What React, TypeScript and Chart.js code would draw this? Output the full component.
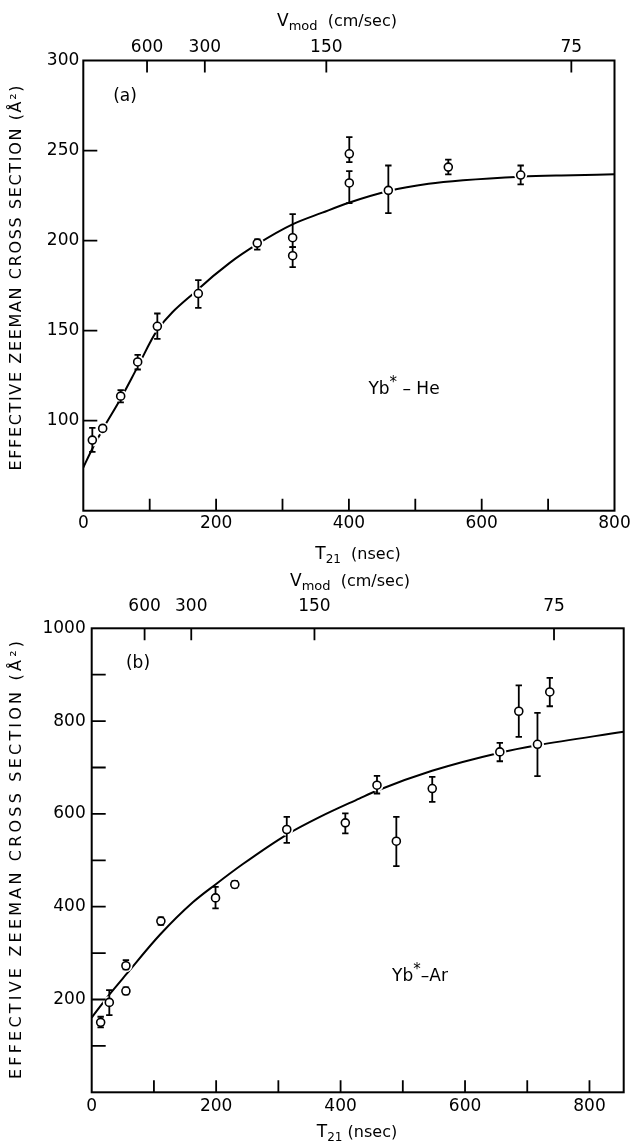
import React, { useEffect, useRef } from 'react';
import { Chart, registerables } from 'chart.js';
Chart.register(...registerables);

const FONT = "'DejaVu Sans', sans-serif";

// ---------- Panel (a): Yb*–He ----------
const heT21 = [13.6, 29.2, 56.3, 81.9, 111.5, 173.2, 262, 315.3, 315.3, 400.6, 400.6, 459.4, 549.7, 658.7];
const heSigma = [89.2, 95.7, 113.6, 132.6, 152.4, 170.6, 198.6, 201.6, 191.6, 248.2, 232, 227.9, 240.8, 236.4];
const heErrHigh = [96, 97.2, 117, 136.5, 159.5, 178, 200.7, 214.7, 196.4, 257.4, 238.6, 241.7, 245, 241.7];
const heErrLow = [82.7, 94.2, 110.1, 128.4, 145.4, 162.6, 195, 196.4, 185.3, 243.6, 220.8, 215.3, 236.8, 231.2];
const heCurveT21 = [0, 13, 29, 56, 82, 111, 173, 220, 262, 315, 360, 400, 460, 520, 572, 660, 720, 800];
const heCurveSigma = [74, 84, 95, 112, 130, 150, 173, 187.5, 198, 209, 215.5, 221, 227.5, 231.5, 233.5, 235.5, 236.2, 236.8];
const heXTicks = [100, 200, 300, 400, 500, 600, 700];
const heXLabels = [0, 200, 400, 600, 800];
const heYTicks = [100, 150, 200, 250];
const heYLabels = [100, 150, 200, 250, 300];
const heVmodT21 = [96, 183, 366, 735];

// ---------- Panel (b): Yb*–Ar ----------
const arT21 = [14.4, 28.3, 55, 55, 111.2, 199, 230, 313.5, 407.6, 458.5, 489.6, 547.3, 655.9, 686.4, 716.4, 736.2];
const arSigma = [150.8, 193.8, 272.7, 218.2, 369, 419, 448, 566.4, 580.7, 661.8, 541.2, 654.7, 733.6, 821.2, 750, 862.8];
const arErrHigh = [162.8, 220.3, 285, 226, 377, 442.8, 455, 593.6, 601, 682, 593.6, 679.8, 753, 877, 817.6, 893];
const arErrLow = [140, 166.5, 265, 211, 361, 396.3, 441, 537.6, 558, 644, 487.4, 625.9, 713.5, 766, 681.2, 832];
const arCurveT21 = [0, 28, 56, 110, 163, 199, 243, 313, 366, 430, 458, 547, 656, 716, 855];
const arCurveSigma = [161, 210, 255, 340, 410, 448, 492, 555, 593, 633, 650, 693, 732, 748, 777];
const arXTicks = [100, 200, 300, 400, 500, 600, 700, 800];
const arXLabels = [0, 200, 400, 600, 800];
const arYTicks = [100, 200, 300, 400, 500, 600, 700, 800, 900];
const arYLabels = [200, 400, 600, 800, 1000];
const arVmodT21 = [85, 160, 358, 743];

const vmodLabels = ['600', '300', '150', '75'];

type Run = { t: string; size: number; dy?: number };
type TextItem = { runs: Run[]; x: number; y: number };

interface Panel {
  t: number[]; s: number[]; hi: number[]; lo: number[];
  ct: number[]; cs: number[];
  xMin: number; xMax: number; yMin: number; yMax: number;
  xTicks: number[]; xLabels: number[]; yTicks: number[]; yLabels: number[]; vmod: number[];
  g: { left: number; right: number; top: number; bottom: number; height: number };
  xPad: number; yPad: number; topPad: number;
  texts: TextItem[];
  title: { x: number; y: number; len: number };
}

const panelA: Panel = {
  t: heT21, s: heSigma, hi: heErrHigh, lo: heErrLow, ct: heCurveT21, cs: heCurveSigma,
  xMin: 0, xMax: 800, yMin: 50, yMax: 300,
  xTicks: heXTicks, xLabels: heXLabels, yTicks: heYTicks, yLabels: heYLabels, vmod: heVmodT21,
  g: { left: 83.3, right: 614.5, top: 60.5, bottom: 510.7, height: 566 },
  xPad: 3, yPad: 4, topPad: 3,
  texts: [
    { runs: [{ t: 'V', size: 17 }, { t: 'mod', size: 13, dy: 4 }, { t: '  (cm/sec)', size: 16 }], x: 337, y: 26 },
    { runs: [{ t: '(a)', size: 17 }], x: 125, y: 101 },
    { runs: [{ t: 'Yb', size: 17 }, { t: '*', size: 15, dy: -7 }, { t: ' – He', size: 17 }], x: 404, y: 394 },
    { runs: [{ t: 'T', size: 17 }, { t: '21', size: 12, dy: 4 }, { t: '  (nsec)', size: 16 }], x: 358, y: 559 },
  ],
  title: { x: 17, y: 278, len: 385 },
};

const panelB: Panel = {
  t: arT21, s: arSigma, hi: arErrHigh, lo: arErrLow, ct: arCurveT21, cs: arCurveSigma,
  xMin: 0, xMax: 855, yMin: 0, yMax: 1000,
  xTicks: arXTicks, xLabels: arXLabels, yTicks: arYTicks, yLabels: arYLabels, vmod: arVmodT21,
  g: { left: 91.7, right: 623.7, top: 62.3, bottom: 526.3, height: 579 },
  xPad: 4, yPad: 6, topPad: 12,
  texts: [
    { runs: [{ t: 'V', size: 17 }, { t: 'mod', size: 13, dy: 4 }, { t: '  (cm/sec)', size: 16 }], x: 350, y: 20 },
    { runs: [{ t: '(b)', size: 17 }], x: 138, y: 102 },
    { runs: [{ t: 'Yb', size: 17 }, { t: '*', size: 15, dy: -7 }, { t: '–Ar', size: 17 }], x: 420, y: 415 },
    { runs: [{ t: 'T', size: 17 }, { t: '21', size: 12, dy: 4 }, { t: ' (nsec)', size: 16 }], x: 357, y: 571 },
  ],
  title: { x: 17, y: 294, len: 438 },
};

function drawRuns(ctx: CanvasRenderingContext2D, runs: Run[], cx: number, y: number) {
  const widths = runs.map((r) => { ctx.font = `${r.size}px ${FONT}`; return ctx.measureText(r.t).width; });
  const total = widths.reduce((a, b) => a + b, 0);
  let x = cx - total / 2;
  ctx.textBaseline = 'alphabetic';
  ctx.textAlign = 'left';
  runs.forEach((r, i) => {
    ctx.font = `${r.size}px ${FONT}`;
    ctx.fillText(r.t, x, y + (r.dy || 0));
    x += widths[i];
  });
}

function drawSpaced(ctx: CanvasRenderingContext2D, text: string, cx: number, cy: number, len: number) {
  ctx.save();
  ctx.translate(cx, cy);
  ctx.rotate(-Math.PI / 2);
  ctx.font = `16px ${FONT}`;
  ctx.textBaseline = 'middle';
  ctx.textAlign = 'left';
  const chars = Array.from(text);
  const w = chars.map((c) => ctx.measureText(c).width);
  const total = w.reduce((a, b) => a + b, 0);
  const gap = (len - total) / (chars.length - 1);
  let x = -len / 2;
  chars.forEach((c, i) => { ctx.fillText(c, x, 0); x += w[i] + gap; });
  ctx.restore();
}

function makePlugin(p: Panel) {
  return {
    id: 'decor',
    afterDatasetDraw(chart: any, args: any) {
      if (args.index !== 1) return;
      const ctx = chart.ctx as CanvasRenderingContext2D;
      const xs = chart.scales.x, ys = chart.scales.y;
      ctx.save();
      ctx.strokeStyle = '#000';
      ctx.lineWidth = 1.8;
      p.t.forEach((t, i) => {
        const x = xs.getPixelForValue(t);
        const yh = ys.getPixelForValue(p.hi[i]);
        const yl = ys.getPixelForValue(p.lo[i]);
        ctx.beginPath();
        ctx.moveTo(x, yh); ctx.lineTo(x, yl);
        ctx.moveTo(x - 3.2, yh); ctx.lineTo(x + 3.2, yh);
        ctx.moveTo(x - 3.2, yl); ctx.lineTo(x + 3.2, yl);
        ctx.stroke();
      });
      ctx.restore();
    },
    afterDraw(chart: any) {
      const ctx = chart.ctx as CanvasRenderingContext2D;
      const a = chart.chartArea;
      const xs = chart.scales.x, ys = chart.scales.y;
      ctx.save();
      ctx.strokeStyle = '#000';
      ctx.fillStyle = '#000';
      ctx.lineWidth = 2;
      ctx.strokeRect(a.left, a.top, a.right - a.left, a.bottom - a.top);
      ctx.lineWidth = 1.8;
      ctx.beginPath();
      p.xTicks.forEach((v) => { const x = xs.getPixelForValue(v); ctx.moveTo(x, a.bottom); ctx.lineTo(x, a.bottom - 12); });
      p.vmod.forEach((v) => { const x = xs.getPixelForValue(v); ctx.moveTo(x, a.top); ctx.lineTo(x, a.top + 12); });
      p.yTicks.forEach((v) => { const y = ys.getPixelForValue(v); ctx.moveTo(a.left, y); ctx.lineTo(a.left + 14, y); });
      ctx.stroke();
      p.texts.forEach((tx) => drawRuns(ctx, tx.runs, tx.x, tx.y));
      drawSpaced(ctx, 'EFFECTIVE ZEEMAN CROSS SECTION (Å²)', p.title.x, p.title.y, p.title.len);
      ctx.restore();
    },
  };
}

function buildConfig(p: Panel): any {
  const pts = p.t.map((t, i) => ({ x: t, y: p.s[i] }));
  const curve = p.ct.map((t, i) => ({ x: t, y: p.cs[i] }));
  const font = { family: FONT, size: 17 };
  const W = 631;
  return {
    type: 'scatter',
    data: {
      datasets: [
        { data: pts, pointRadius: 4, pointBorderWidth: 1.6, pointBackgroundColor: '#fff', pointBorderColor: '#000', showLine: false },
        { data: pts, pointRadius: 6.5, pointBorderWidth: 0, pointBackgroundColor: '#fff', pointBorderColor: '#fff', showLine: false },
        { data: curve, showLine: true, pointRadius: 0, borderColor: '#000', borderWidth: 2, cubicInterpolationMode: 'monotone', fill: false },
      ],
    },
    options: {
      responsive: false,
      animation: false,
      devicePixelRatio: 1,
      events: [],
      layout: { padding: { left: 0, top: 0, bottom: 0, right: W - p.g.right } },
      plugins: { legend: { display: false }, tooltip: { enabled: false } },
      scales: {
        x: {
          type: 'linear', position: 'bottom', min: p.xMin, max: p.xMax,
          afterBuildTicks: (s: any) => { s.ticks = p.xLabels.map((v) => ({ value: v })); },
          afterFit: (s: any) => { s.height = p.g.height - p.g.bottom; s.paddingLeft = 0; s.paddingRight = 0; },
          ticks: { font, color: '#000', padding: p.xPad, maxRotation: 0, autoSkip: false, callback: (v: any) => String(v) },
          grid: { display: false, drawTicks: false },
          border: { display: false },
        },
        x2: {
          type: 'linear', position: 'top', min: p.xMin, max: p.xMax,
          afterBuildTicks: (s: any) => { s.ticks = p.vmod.map((v) => ({ value: v })); },
          afterFit: (s: any) => { s.height = p.g.top; s.paddingLeft = 0; s.paddingRight = 0; },
          ticks: { font, color: '#000', padding: p.topPad, maxRotation: 0, autoSkip: false, callback: (_v: any, i: number) => vmodLabels[i] },
          grid: { display: false, drawTicks: false },
          border: { display: false },
        },
        y: {
          type: 'linear', position: 'left', min: p.yMin, max: p.yMax,
          afterBuildTicks: (s: any) => { s.ticks = p.yLabels.map((v) => ({ value: v })); },
          afterFit: (s: any) => { s.width = p.g.left; s.paddingTop = 0; s.paddingBottom = 0; },
          ticks: { font, color: '#000', padding: p.yPad, autoSkip: false, callback: (v: any) => String(v) },
          grid: { display: false, drawTicks: false },
          border: { display: false },
        },
      },
    },
    plugins: [makePlugin(p)],
  };
}

function PanelChart({ panel, top }: { panel: Panel; top: number }) {
  const ref = useRef<HTMLCanvasElement>(null);
  useEffect(() => {
    const chart = new Chart(ref.current as HTMLCanvasElement, buildConfig(panel));
    return () => chart.destroy();
  }, [panel]);
  return (
    <canvas
      ref={ref}
      width={631}
      height={panel.g.height}
      style={{ position: 'absolute', left: 0, top, width: 631, height: panel.g.height, display: 'block' }}
    />
  );
}

export default function App() {
  return (
    <div style={{ position: 'absolute', left: 0, top: 0, width: 631, height: 1145, background: '#fff', overflow: 'hidden' }}>
      <PanelChart panel={panelA} top={0} />
      <PanelChart panel={panelB} top={566} />
    </div>
  );
}
